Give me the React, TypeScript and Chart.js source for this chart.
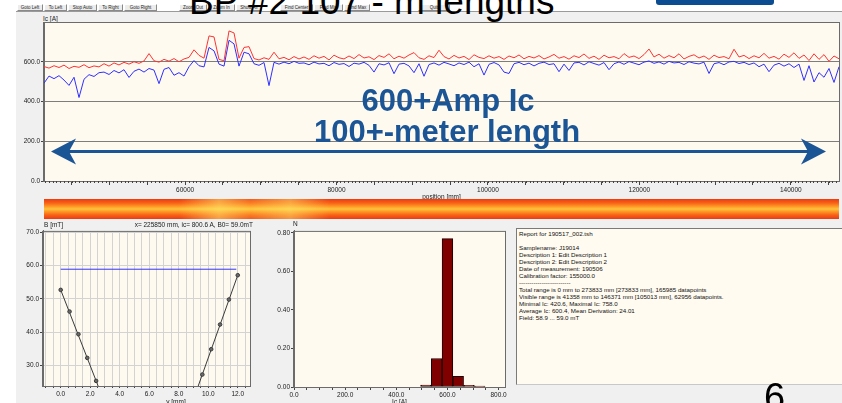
import React, { useEffect, useRef } from 'react';
import { Chart, registerables } from 'chart.js';

Chart.register(...registerables);

// ---- Ic scan along the tape -------------------------------------------------
// Visible window of the scan (mm)
const POS_START = 41358;
const POS_END = 146371;

// Upper trace (red) and lower trace (blue), Ic in A, sampled evenly over the window
const icUpper: number[] = [
  576, 568, 580, 571, 583, 566, 577, 572, 585, 570, 579, 574,
  590, 578, 594, 584, 597, 588, 600, 592, 604, 641,
  605, 598, 612, 603, 616, 600, 614, 622,
  660, 632, 618, 730, 725, 612, 605, 755, 745, 618, 672, 676,
  616, 609, 620, 612, 648, 615, 622, 610, 626, 614,
  624, 612, 630, 618, 627, 609, 633, 620, 614, 629,
  616, 636, 619, 625, 611, 631, 622, 640, 615, 628,
  618, 634, 646, 620, 612, 630, 621, 658, 626, 614,
  632, 619, 627, 611, 635, 622, 616, 630, 618, 626,
  612, 629, 620, 634, 615, 627, 619, 631, 614, 624,
  637, 618, 626, 613, 630, 621, 639, 617, 628, 612,
  633, 620, 626, 615, 641, 622, 629, 616, 636, 664,
  624, 638, 618, 631, 620, 640, 614, 627, 635, 619,
  629, 612, 633, 621, 626, 615, 663, 624, 632, 616,
  630, 620, 642, 618, 627, 613, 638, 622, 645, 617,
  634, 606, 640, 612, 636, 602, 629, 615,
];

const icLower: number[] = [
  492, 528, 515, 530, 508, 481, 522, 420, 512, 535, 526, 545,
  548, 536, 556, 544, 560, 521, 552, 563, 548, 566,
  558, 490, 562, 571, 532, 545, 528, 575,
  606, 580, 574, 672, 655, 588, 578, 708, 690, 578, 648, 640,
  590, 582, 596, 480, 597, 588, 598, 590, 602, 592,
  594, 585, 598, 589, 592, 580, 596, 587, 591, 576,
  593, 588, 597, 582, 548, 590, 584, 595, 540, 588,
  592, 579, 545, 590, 527, 586, 594, 583, 597, 589,
  580, 594, 586, 598, 575, 590, 533, 587, 596, 584,
  548, 541, 590, 597, 585, 593, 579, 592, 598, 586,
  590, 550, 588, 556, 594, 597, 584, 600, 591, 583,
  596, 560, 590, 599, 587, 601, 593, 585, 598, 604,
  592, 599, 588, 602, 594, 597, 586, 600, 593, 589,
  598, 541, 590, 596, 585, 599, 602, 591, 597, 586,
  594, 575, 588, 550, 583, 592, 578, 590, 571, 588,
  506, 580, 498, 545, 522, 566, 496, 575,
];

const IC_MAX = 800;
const IC_TICKS = [0, 200, 400, 600];
const POS_TICK_STEP = 5000;
const POS_LABEL_STEP = 20000;

// ---- Field profile across the tape -------------------------------------------
const fieldY: number[] = [0.0, 0.6, 1.2, 1.8, 2.4, 9.6, 10.2, 10.8, 11.4, 12.0];
const fieldB: number[] = [52.7, 46.2, 39.4, 32.3, 25.4, 27.3, 34.9, 42.3, 49.8, 57.1];
const fitLeftY: number[] = [0.0, 3.0];
const fitLeftB: number[] = [52.7, 18.6];
const fitRightY: number[] = [9.0, 12.0];
const fitRightB: number[] = [19.9, 57.1];
const b0Y: number[] = [0.0, 11.9];
const B0 = 58.9;
const FIELD_TICKS = [30, 40, 50, 60, 70];

// ---- Ic distribution ---------------------------------------------------------
const icBinCenters: number[] = [516, 558, 600, 642, 684, 726];
const icBinFractions: number[] = [0.01, 0.148, 0.77, 0.056, 0.009, 0.005];
const HIST_TICKS = [0, 0.2, 0.4, 0.6, 0.8];

// ---- Report text -------------------------------------------------------------
const reportLines: string[] = [
  'Report for 190517_002.tsh',
  '',
  'Samplename: J19014',
  'Description 1: Edit Description 1',
  'Description 2: Edit Description 2',
  'Date of measurement: 190506',
  'Calibration factor: 155000.0',
  '-------------------------',
  'Total range is 0 mm to 273833 mm [273833 mm], 165985 datapoints',
  'Visible range is 41358 mm to 146371 mm [105013 mm], 62956 datapoints.',
  'Minimal Ic: 420.6, Maximal Ic: 758.0',
  'Average Ic: 600.4, Mean Derivation: 24.01',
  'Field: 58.9 ... 59.0 mT',
];

const toolbarButtons: [string, number, number][] = [
  ['Goto Left', 17, 26], ['To Left', 44, 23], ['Stop Auto', 68, 29], ['To Right', 98, 25],
  ['Goto Right', 124, 33], ['Zoom Out', 179, 28], ['Zoom In', 208, 27], ['Show All', 236, 26],
  ['Find Center', 280, 33], ['Find Min', 314, 29], ['Find Max', 344, 26], ['Quit', 418, 32],
];

const FONT_FAMILY = 'Liberation Sans, Arial, sans-serif';
const TICK_FONT = { family: FONT_FAMILY, size: 6.5 };
const TICK_COLOR = '#1a1a1a';
const PLOT_BG = '#fefaef';
const PANEL_BG = '#f0f0f0';
const FRAME = '#6b6b6b';
const ANNOT_BLUE = '#1b5596';

const multiples = (min: number, max: number, step: number) => {
  const out: { value: number }[] = [];
  for (let k = Math.ceil(min / step - 1e-9); k * step <= max + 1e-9; k++) {
    out.push({ value: +(k * step).toFixed(6) });
  }
  return out;
};
const isMultiple = (v: number, step: number) => Math.abs(v / step - Math.round(v / step)) < 1e-6;

// Fills the plot background, frames it and adds fine minor ticks on the x axis.
const plotPanel = {
  id: 'plotPanel',
  beforeDraw(chart: any, _a: any, opts: any) {
    const { ctx, chartArea: a } = chart;
    ctx.save();
    ctx.fillStyle = opts.fill;
    ctx.fillRect(a.left, a.top, a.right - a.left, a.bottom - a.top);
    ctx.restore();
  },
  afterDraw(chart: any, _a: any, opts: any) {
    const { ctx, chartArea: a } = chart;
    ctx.save();
    ctx.strokeStyle = opts.stroke;
    ctx.lineWidth = 1;
    ctx.strokeRect(a.left - 0.5, a.top + 0.5, a.right - a.left + 1, a.bottom - a.top);
    if (opts.minorStep) {
      const xs = chart.scales.x;
      ctx.strokeStyle = opts.minorColor || '#333';
      ctx.beginPath();
      for (const t of multiples(xs.min, xs.max, opts.minorStep)) {
        const px = Math.round(xs.getPixelForValue(t.value)) + 0.5;
        ctx.moveTo(px, a.bottom);
        ctx.lineTo(px, a.bottom + opts.minorLen);
      }
      ctx.stroke();
    }
    ctx.restore();
  },
};

const baseOptions = (padding: any) => ({
  responsive: false,
  maintainAspectRatio: false,
  animation: false as const,
  devicePixelRatio: 1,
  layout: { padding, autoPadding: false },
  events: [] as any[],
});

const App: React.FC = () => {
  const mainRef = useRef<HTMLCanvasElement>(null);
  const fieldRef = useRef<HTMLCanvasElement>(null);
  const histRef = useRef<HTMLCanvasElement>(null);

  useEffect(() => {
    document.body.style.margin = '0';
    const charts: Chart[] = [];
    const positions = icUpper.map(
      (_, i) => POS_START + (i * (POS_END - POS_START)) / (icUpper.length - 1)
    );

    charts.push(
      new Chart(mainRef.current!, {
        type: 'line',
        data: {
          datasets: [
            {
              data: positions.map((x, i) => ({ x, y: icUpper[i] })),
              borderColor: '#ff3333',
              borderWidth: 1,
              pointRadius: 0,
            },
            {
              data: positions.map((x, i) => ({ x, y: icLower[i] })),
              borderColor: '#3030ff',
              borderWidth: 1,
              pointRadius: 0,
            },
          ],
        },
        options: {
          ...baseOptions({ left: 0, top: 10, right: 3, bottom: 3 }),
          plugins: {
            legend: { display: false },
            tooltip: { enabled: false },
            plotPanel: { fill: PLOT_BG, stroke: FRAME, minorStep: 500, minorLen: 2, minorColor: '#444' },
          } as any,
          scales: {
            x: {
              type: 'linear',
              min: POS_START,
              max: POS_END,
              afterBuildTicks: (s: any) => { s.ticks = multiples(s.min, s.max, POS_TICK_STEP); },
              afterFit: (s: any) => { s.height = 20; },
              grid: { drawOnChartArea: false, tickLength: 4, color: '#444' },
              border: { color: FRAME },
              ticks: {
                autoSkip: false,
                maxRotation: 0,
                padding: 1,
                font: TICK_FONT,
                color: TICK_COLOR,
                callback: (v: any) => (isMultiple(v, POS_LABEL_STEP) ? String(v) : ''),
              },
              title: { display: true, text: 'position [mm]', font: TICK_FONT, color: TICK_COLOR, padding: 0 },
            },
            y: {
              type: 'linear',
              min: 0,
              max: IC_MAX,
              afterBuildTicks: (s: any) => { s.ticks = IC_TICKS.map((value) => ({ value })); },
              afterFit: (s: any) => { s.width = 28; },
              grid: { color: '#7d7d7d', tickLength: 3, tickColor: '#444' },
              border: { color: FRAME },
              ticks: { padding: 1, font: TICK_FONT, color: TICK_COLOR, callback: (v: any) => Number(v).toFixed(1) },
            },
          },
        } as any,
        plugins: [plotPanel],
      })
    );

    charts.push(
      new Chart(fieldRef.current!, {
        type: 'scatter',
        data: {
          datasets: [
            {
              data: fieldY.map((x, i) => ({ x, y: fieldB[i] })),
              showLine: false,
              pointRadius: 1.8,
              pointBackgroundColor: '#6a6a6a',
              pointBorderColor: '#3a3a3a',
              pointBorderWidth: 1,
            },
            {
              data: fitLeftY.map((x, i) => ({ x, y: fitLeftB[i] })),
              showLine: true,
              borderColor: '#3a3a3a',
              borderWidth: 1,
              pointRadius: 0,
            },
            {
              data: fitRightY.map((x, i) => ({ x, y: fitRightB[i] })),
              showLine: true,
              borderColor: '#3a3a3a',
              borderWidth: 1,
              pointRadius: 0,
            },
            {
              data: b0Y.map((x) => ({ x, y: B0 })),
              showLine: true,
              borderColor: '#3434ff',
              borderWidth: 1,
              pointRadius: 0,
            },
          ],
        },
        options: {
          ...baseOptions({ left: 0, top: 3, right: 16, bottom: 4 }),
          plugins: {
            legend: { display: false },
            tooltip: { enabled: false },
            plotPanel: { fill: PLOT_BG, stroke: FRAME },
          } as any,
          scales: {
            x: {
              type: 'linear',
              min: -1.2,
              max: 12.83,
              afterBuildTicks: (s: any) => { s.ticks = multiples(s.min, s.max, 0.5); },
              afterFit: (s: any) => { s.height = 22; },
              grid: { color: '#d3d3d3', tickLength: 2, tickColor: '#444' },
              border: { color: FRAME },
              ticks: {
                autoSkip: false,
                maxRotation: 0,
                padding: 2,
                font: TICK_FONT,
                color: TICK_COLOR,
                callback: (v: any) => (isMultiple(v, 2) ? Number(v).toFixed(1) : ''),
              },
            },
            y: {
              type: 'linear',
              min: 23.87,
              max: 70.39,
              afterBuildTicks: (s: any) => { s.ticks = FIELD_TICKS.map((value) => ({ value })); },
              afterFit: (s: any) => { s.width = 27; },
              grid: { color: '#d3d3d3', tickLength: 3, tickColor: '#444' },
              border: { color: FRAME },
              ticks: { padding: 1, font: TICK_FONT, color: TICK_COLOR, callback: (v: any) => Number(v).toFixed(1) },
            },
          },
        } as any,
        plugins: [plotPanel],
      })
    );

    charts.push(
      new Chart(histRef.current!, {
        type: 'bar',
        data: {
          datasets: [
            {
              data: icBinCenters.map((x, i) => ({ x, y: icBinFractions[i] })),
              backgroundColor: '#800000',
              borderColor: '#1a0000',
              borderWidth: 1,
              borderSkipped: false,
              barPercentage: 1,
              categoryPercentage: 1,
            },
          ],
        },
        options: {
          ...baseOptions({ left: 0, top: 2, right: 11, bottom: 6 }),
          plugins: {
            legend: { display: false },
            tooltip: { enabled: false },
            plotPanel: { fill: PLOT_BG, stroke: FRAME },
          } as any,
          scales: {
            x: {
              type: 'linear',
              offset: false,
              min: 0,
              max: 825,
              afterBuildTicks: (s: any) => { s.ticks = multiples(s.min, s.max, 50); },
              afterFit: (s: any) => { s.height = 19; },
              grid: { drawOnChartArea: false, offset: false, tickLength: 3, color: '#444' },
              border: { color: FRAME },
              ticks: {
                autoSkip: false,
                maxRotation: 0,
                padding: 1,
                font: TICK_FONT,
                color: TICK_COLOR,
                callback: (v: any) => (isMultiple(v, 200) ? Number(v).toFixed(1) : ''),
              },
              title: { display: true, text: 'Ic [A]', font: TICK_FONT, color: TICK_COLOR, padding: 0 },
            },
            y: {
              type: 'linear',
              min: 0,
              max: 0.81,
              afterBuildTicks: (s: any) => { s.ticks = HIST_TICKS.map((value) => ({ value })); },
              afterFit: (s: any) => { s.width = 28; },
              grid: { drawOnChartArea: false, tickLength: 3, color: '#444' },
              border: { color: FRAME },
              ticks: { padding: 1, font: TICK_FONT, color: TICK_COLOR, callback: (v: any) => Number(v).toFixed(2) },
            },
          },
        } as any,
        plugins: [plotPanel],
      })
    );

    return () => charts.forEach((c) => c.destroy());
  }, []);

  const small: React.CSSProperties = {
    position: 'absolute',
    fontFamily: FONT_FAMILY,
    fontSize: 6.5,
    lineHeight: '7px',
    color: TICK_COLOR,
    whiteSpace: 'nowrap',
  };
  const big: React.CSSProperties = {
    position: 'absolute',
    fontFamily: FONT_FAMILY,
    fontWeight: 'bold',
    fontSize: 31,
    lineHeight: '31px',
    color: ANNOT_BLUE,
    whiteSpace: 'nowrap',
    textAlign: 'center',
    width: 400,
  };

  return (
    <div style={{ position: 'relative', width: 842, height: 403, overflow: 'hidden', background: '#ffffff' }}>
      {/* application window */}
      <div style={{ position: 'absolute', left: 16, top: 12, width: 826, height: 391, background: PANEL_BG }} />
      <div style={{ position: 'absolute', left: 16, top: 11, width: 826, height: 1, background: '#9a9a9a' }} />
      {toolbarButtons.map(([label, left, width]) => (
        <div
          key={label}
          style={{
            position: 'absolute', left, top: 4, width, height: 7, boxSizing: 'border-box',
            border: '1px solid #8a8a8a', borderTopColor: '#ffffff', borderLeftColor: '#ffffff',
            background: '#ececec', fontFamily: FONT_FAMILY, fontSize: 4.5, lineHeight: '5px',
            textAlign: 'center', color: '#222', whiteSpace: 'nowrap', overflow: 'hidden',
          }}
        >
          {label}
        </div>
      ))}

      {/* slide title, partly above the page edge */}
      <div
        style={{
          position: 'absolute', left: 189, top: 14 - 0.8465 * 37, fontFamily: FONT_FAMILY, fontSize: 37,
          lineHeight: '37px', color: '#000', whiteSpace: 'nowrap',
        }}
      >
        BP #2 107 - m lengths
      </div>
      <div style={{ position: 'absolute', left: 656, top: -6, width: 118, height: 11, background: '#0c4d92', borderRadius: 3 }} />

      {/* Ic along the tape */}
      <div style={{ ...small, left: 43, top: 15 }}>Ic [A]</div>
      <canvas ref={mainRef} width={826} height={192} style={{ position: 'absolute', left: 16, top: 12 }} />

      {/* Ic colour strip */}
      <div
        style={{
          position: 'absolute', left: 44, top: 199, width: 795, height: 20,
          background:
            'linear-gradient(to bottom, #ec3a12 0%, #f76216 20%, #ff9a26 38%, #ffc43c 50%, #ff9a26 62%, #f76216 80%, #ec3a12 100%)',
        }}
      />
      <div
        style={{
          position: 'absolute', left: 44, top: 199, width: 795, height: 20,
          background:
            'linear-gradient(to right, rgba(255,230,90,0) 0%, rgba(255,230,90,0) 17%, rgba(255,235,110,0.55) 22%, rgba(255,230,90,0.2) 26%, rgba(255,235,110,0.5) 31%, rgba(255,230,90,0) 36%, rgba(255,230,90,0) 100%)',
        }}
      />

      {/* field profile */}
      <div style={{ ...small, left: 44, top: 221 }}>B [mT]</div>
      <div style={{ ...small, left: 103, top: 221, width: 150, textAlign: 'right' }}>
        x= 225850 mm, ic= 800.6 A, B0= 59.0mT
      </div>
      <canvas ref={fieldRef} width={250} height={186} style={{ position: 'absolute', left: 16, top: 226 }} />
      <div style={{ ...small, left: 126, top: 398, width: 100, textAlign: 'center' }}>y [mm]</div>

      {/* Ic histogram */}
      <div style={{ ...small, left: 293, top: 220 }}>N</div>
      <canvas ref={histRef} width={250} height={186} style={{ position: 'absolute', left: 266, top: 226 }} />

      {/* report */}
      <div
        style={{
          position: 'absolute', left: 516, top: 228, width: 340, height: 157, boxSizing: 'border-box',
          background: '#fffbf0', borderTop: '1px solid #7a7a7a', borderLeft: '1px solid #7a7a7a',
          borderBottom: '1px solid #c8c8c8', padding: '1px 0 0 2px',
        }}
      >
        {reportLines.map((line, i) => (
          <div
            key={i}
            style={{ fontFamily: FONT_FAMILY, fontSize: 6.2, lineHeight: '7px', height: 7, color: '#111', whiteSpace: 'pre' }}
          >
            {line}
          </div>
        ))}
      </div>

      {/* headline annotation */}
      <div style={{ ...big, left: 248, top: 85 }}>600+Amp Ic</div>
      <div style={{ ...big, left: 247, top: 116 }}>100+-meter length</div>
      <svg width={842} height={403} style={{ position: 'absolute', left: 0, top: 0 }}>
        <rect x={68} y={150} width={741} height={3} fill={ANNOT_BLUE} />
        <polygon points="51,151.5 76,138.5 69,151.5 76,164.5" fill={ANNOT_BLUE} />
        <polygon points="826,151.5 801,138.5 808,151.5 801,164.5" fill={ANNOT_BLUE} />
      </svg>

      {/* slide number */}
      <div
        style={{
          position: 'absolute', left: 764, top: 410 - 0.8465 * 38, fontFamily: FONT_FAMILY, fontSize: 38,
          lineHeight: '38px', color: '#000',
        }}
      >
        6
      </div>
    </div>
  );
};

export default App;
